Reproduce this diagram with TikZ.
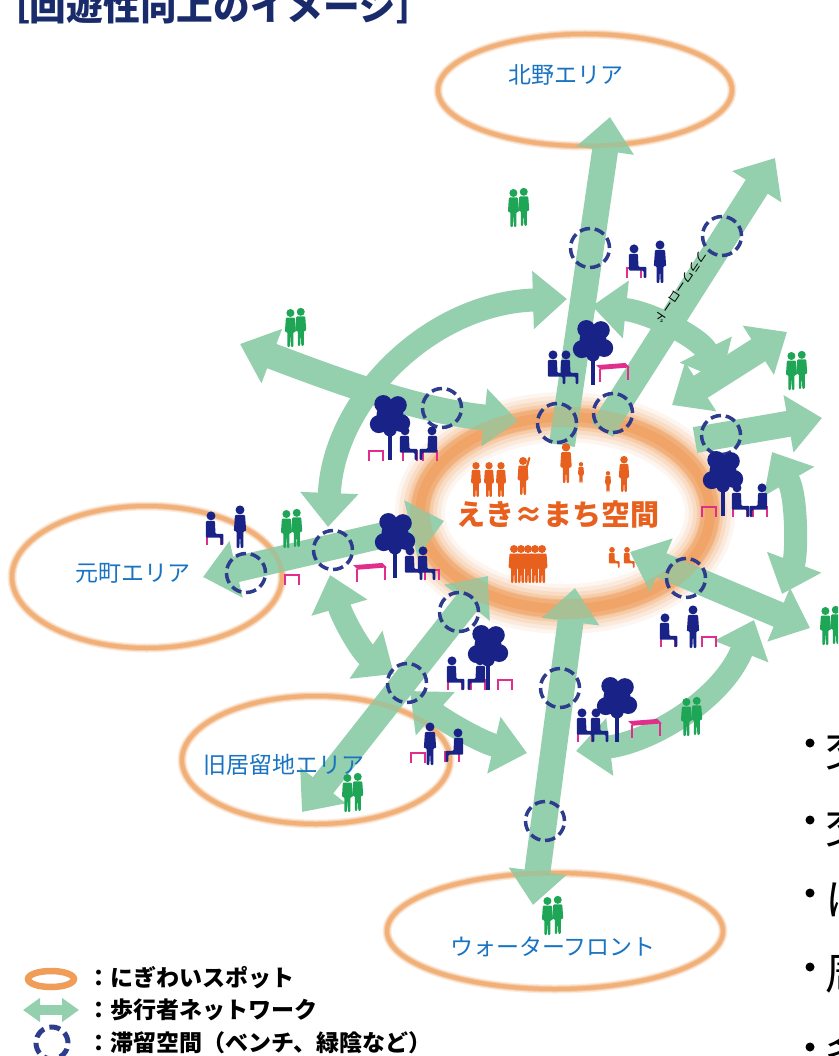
\documentclass[tikz,border=0pt]{standalone}
\usepackage{fontspec}
\setmainfont{Noto Sans CJK JP}
\usetikzlibrary{arrows.meta}

\definecolor{ringorange}{RGB}{238,140,60}
\definecolor{walkgreen}{RGB}{148,207,174}
\definecolor{stayblue}{RGB}{45,60,140}
\definecolor{areablue}{RGB}{25,115,195}
\definecolor{navy}{RGB}{25,35,135}
\definecolor{benchpink}{RGB}{225,45,140}
\definecolor{walkergreen}{RGB}{30,165,85}
\definecolor{crowdorange}{RGB}{232,96,30}
\definecolor{titlenavy}{RGB}{26,43,107}

\tikzset{
  walkway/.style={draw=walkgreen, line width=26pt, >={Triangle[length=34pt,width=56pt]}},
  ringway/.style={walkway, line width=23pt},
  stayspot/.style={circle, draw=stayblue, line width=3.5pt, minimum size=39pt, inner sep=0pt, dash pattern=on 10.5pt off 4.8pt},
  arealabel/.style={text=areablue, inner sep=0pt, font=\fontsize{23}{23}\selectfont},
  legendtext/.style={anchor=west, inner sep=0pt, font=\bfseries\fontsize{23}{23}\selectfont},
  person/.pic={
    \fill (0,-34) circle (4);
    \fill[rounded corners=1pt] (-4.5,-29.5) -- (4.5,-29.5) -- (5.5,-15) -- (3,-15) -- (3,0) -- (0.6,0)
      -- (0,-13) -- (-0.6,0) -- (-3,0) -- (-3,-15) -- (-5.5,-15) -- cycle;
  },
  walkers/.pic={
    \pic at (-4,0) {person};
    \pic at (5,-1) {person};
  },
  cheer/.pic={
    \pic {person};
    \draw[line width=2.2pt, line cap=round] (3,-27) -- (7,-41);
  },
  seated/.pic={
    \fill (0,-26) circle (4);
    \fill[rounded corners=1pt] (-4.5,-21.5) -- (3.5,-21.5) -- (4,-10) -- (11,-10) -- (11,0) -- (8.5,0)
      -- (8.5,-6.5) -- (-4.5,-6.5) -- cycle;
  },
  shadetree/.pic={
    \fill (-1.8,0) rectangle (1.8,-26);
    \fill (0,-40) circle (12) (-10,-32) circle (8) (10,-33) circle (8) (-6,-50) circle (8)
      (7,-49) circle (8) (0,-27) circle (6);
  },
  bench/.pic={
    \fill (-15,-15) -- (11,-17) -- (15,-13) -- (-11,-11) -- cycle;
    \draw[line width=2pt] (-12,-12) -- (-12,0) (13,-14) -- (13,-2);
  },
  stool/.pic={
    \draw[line width=1.8pt] (-6,0) -- (-6,-9) -- (6,-9) -- (6,0);
  }
}

\begin{document}
\begin{tikzpicture}[x=1pt,y=-1pt]
\useasboundingbox (0,0) rectangle (838,1056);
\clip (0,0) rectangle (838,1056);
\fill[white] (0,0) rectangle (838,1056);

\node[anchor=base west, inner sep=0pt, text=titlenavy, font=\bfseries\fontsize{36.7}{36.7}\selectfont] (title) at (-7,21) {［回遊性向上のイメージ］};

% soft orange rings
\foreach \w/\o in {9/.18,6.5/.25,4/.35} {
  \draw[ringorange, line width=\w pt, opacity=\o] (585,90) ellipse [x radius=147, y radius=56];
  \draw[ringorange, line width=\w pt, opacity=\o] (147,577) ellipse [x radius=135, y radius=71];
  \draw[ringorange, line width=\w pt, opacity=\o] (316,760) ellipse [x radius=134, y radius=64];
  \draw[ringorange, line width=\w pt, opacity=\o] (555,931) ellipse [x radius=168, y radius=58];
}
\foreach \w/\o in {50/.08,42/.1,34/.14,26/.2,18/.25,10/.3}
  \draw[ringorange, line width=\w pt, opacity=\o] (565,513) ellipse [x radius=145, y radius=96];

\coordinate (n-in) at (562,445);   \coordinate (n-out) at (610,117);
\coordinate (ne-in) at (602,430);  \coordinate (ne-out) at (775,158);
\coordinate (nw-out) at (240,344); \coordinate (nw-in) at (518,421);
\coordinate (w-out) at (203,577);  \coordinate (w-in) at (444,521);
\coordinate (sw-out) at (302,812); \coordinate (sw-in) at (488,576);
\coordinate (s-out) at (533,905);  \coordinate (s-in) at (575,588);
\coordinate (se-in) at (630,552);  \coordinate (se-out) at (810,628);
\coordinate (e-in) at (695,440);   \coordinate (e-out) at (822,418);
\coordinate (ene-in) at (672,405); \coordinate (ene-out) at (787,332);
\coordinate (arc1a) at (328,527);  \coordinate (arc1b) at (567,299);
\coordinate (arc2a) at (592,306);  \coordinate (arc2b) at (721,380);
\coordinate (arc3a) at (772,452);  \coordinate (arc3b) at (782,594);
\coordinate (arc4a) at (754,620);  \coordinate (arc4b) at (576,751);
\coordinate (arc5a) at (330,575);  \coordinate (arc5b) at (394,674);
\coordinate (arc6a) at (410,691);  \coordinate (arc6b) at (527,753);

\draw[walkway,->] (n-in) -- (n-out);
\draw[walkway,->] (ne-in) -- (ne-out);
\draw[walkway,<->] (nw-out) .. controls (340,382) and (420,411) .. (nw-in);
\draw[walkway,<->] (w-out) -- (w-in);
\draw[walkway,<->] (sw-out) -- (sw-in);
\draw[walkway,<->] (s-out) -- (s-in);
\draw[walkway,<->] (se-in) -- (se-out);
\draw[walkway,->] (e-in) -- (e-out);
\draw[walkway,<->] (ene-in) -- (ene-out);
% loop round the station
\draw[ringway,<->] (arc1a) .. controls (333,400) and (430,303) .. (arc1b);
\draw[ringway,<->] (arc2a) .. controls (650,312) and (700,338) .. (arc2b);
\draw[ringway,<->] (arc3a) .. controls (797,495) and (797,555) .. (arc3b);
\draw[ringway,<->] (arc4a) .. controls (722,700) and (650,742) .. (arc4b);
\draw[ringway,<->] (arc5a) .. controls (343,620) and (362,652) .. (arc5b);
\draw[ringway,<->] (arc6a) .. controls (440,718) and (480,742) .. (arc6b);

% rings show faintly through the walkways
\draw[ringorange, line width=20pt, opacity=.22] (565,513) ellipse [x radius=145, y radius=96];
\draw[ringorange, line width=5pt, opacity=.2] (585,90) ellipse [x radius=147, y radius=56];
\draw[ringorange, line width=5pt, opacity=.2] (147,577) ellipse [x radius=135, y radius=71];
\draw[ringorange, line width=5pt, opacity=.2] (316,760) ellipse [x radius=134, y radius=64];
\draw[ringorange, line width=5pt, opacity=.2] (555,931) ellipse [x radius=168, y radius=58];

\node[rotate=-124, inner sep=0pt, font=\fontsize{12}{12}\selectfont] (flowerroad) at (681,287) {フラワーロード};

\node[stayspot] (s-kitano) at (590,248) {};
\node[stayspot] (s-flower) at (722,236) {};
\node[stayspot] (s-nw) at (442,408) {};
\node[stayspot] (s-top) at (557,423) {};
\node[stayspot] (s-topr) at (613,413) {};
\node[stayspot] (s-east) at (721,435) {};
\node[stayspot] (s-se) at (686,578) {};
\node[stayspot] (s-west) at (333,550) {};
\node[stayspot] (s-motomachi) at (246,573) {};
\node[stayspot] (s-sw) at (459,612) {};
\node[stayspot] (s-kyoryuchi) at (407,683) {};
\node[stayspot] (s-south) at (560,688) {};
\node[stayspot] (s-front) at (545,821) {};

% benches, trees and people
\begin{scope}[every pic/.style={scale=1.12}]
\pic[navy] at (553,384) {seated};
\pic[navy] at (566,384) {seated};
\pic[navy] at (593,385) {shadetree};
\pic[benchpink] at (613,382) {bench};

\pic[benchpink] at (634,278) {stool};
\pic[navy] at (634,278) {seated};
\pic[navy] at (660,283) {person};

\pic[navy] at (390,460) {shadetree};
\pic[benchpink] at (376,461) {stool};
\pic[benchpink] at (410,461) {stool};
\pic[benchpink] at (430,461) {stool};
\pic[navy] at (405,460) {seated};
\pic[navy, xscale=-1] at (432,460) {seated};

\pic[navy] at (723,516) {shadetree};
\pic[benchpink] at (709,517) {stool};
\pic[benchpink] at (740,517) {stool};
\pic[benchpink] at (760,517) {stool};
\pic[navy] at (737,517) {seated};
\pic[navy, xscale=-1] at (762,517) {seated};

\pic[benchpink] at (214,545) {stool};
\pic[navy] at (211,545) {seated};
\pic[navy] at (240,548) {person};

\pic[navy] at (395,578) {shadetree};
\pic[benchpink] at (370,582) {bench};
\pic[benchpink] at (432,580) {stool};
\pic[navy] at (410,580) {seated};
\pic[navy] at (423,580) {seated};
\pic[benchpink] at (292,585) {stool};

\pic[benchpink] at (668,647) {stool};
\pic[navy] at (665,647) {seated};
\pic[navy] at (693,648) {person};
\pic[benchpink] at (709,647) {stool};

\pic[navy] at (488,690) {shadetree};
\pic[benchpink] at (455,690) {stool};
\pic[benchpink] at (478,690) {stool};
\pic[benchpink] at (505,690) {stool};
\pic[navy] at (452,690) {seated};
\pic[navy, xscale=-1] at (480,690) {seated};

\pic[navy] at (617,742) {shadetree};
\pic[benchpink] at (585,742) {stool};
\pic[navy] at (582,742) {seated};
\pic[navy] at (596,742) {seated};
\pic[benchpink] at (645,738) {bench};

\pic[benchpink] at (418,763) {stool};
\pic[navy] at (430,765) {person};
\pic[benchpink] at (452,762) {stool};
\pic[navy, xscale=-1] at (458,762) {seated};
\end{scope}

\foreach \x/\y in {518/227,295/347,291/548,796/390,830/645,691/736,352/812,552/935}
  \pic[walkergreen, scale=1.15] at (\x,\y) {walkers};

% crowd in the station square
\pic[crowdorange, scale=.92] at (476,497) {person};
\pic[crowdorange, scale=.92] at (489,497) {person};
\pic[crowdorange, scale=.92] at (501,497) {person};
\pic[crowdorange, scale=.9] at (523,495) {cheer};
\pic[crowdorange, scale=1.05] at (566,483) {person};
\pic[crowdorange, scale=.55] at (581,483) {person};
\pic[crowdorange, scale=.55] at (608,492) {person};
\pic[crowdorange, scale=.95] at (624,492) {person};
\foreach \x in {514,521,528,535,542}
  \pic[crowdorange] at (\x,583) {person};
\pic[crowdorange, scale=.7] at (612,568) {seated};
\pic[crowdorange, scale=.7] at (627,568) {seated};

\node[inner sep=0pt, text=crowdorange, font=\bfseries\fontsize{29}{29}\selectfont] (station) at (558,514) {えき≈まち空間};

\node[arealabel] (kitano) at (566,75) {北野エリア};
\node[arealabel] (motomachi) at (133,573) {元町エリア};
\node[arealabel] (kyoryuchi) at (284,765) {旧居留地エリア};
\node[arealabel] (waterfront) at (553,947) {ウォーターフロント};

% legend
\draw[ringorange, line width=6.5pt, opacity=.85] (51,979) ellipse [x radius=23, y radius=8];
\node[legendtext] (leg-spot) at (87.5,978) {：にぎわいスポット};
\coordinate (leg-a) at (23,1010);
\coordinate (leg-b) at (79,1010);
\draw[draw=walkgreen, line width=10pt, <->, >={Triangle[length=17pt,width=23pt]}] (leg-a) -- (leg-b);
\node[legendtext] (leg-walk) at (87.5,1010) {：歩行者ネットワーク};
\node[stayspot, minimum size=32pt, line width=5pt, dash pattern=on 11pt off 5.7pt] (leg-stay) at (52,1043) {};
\node[legendtext] (leg-rest) at (87.5,1043) {：滞留空間（ベンチ、緑陰など）};

\foreach \y/\c in {743/交,820/交,893/に,967/周,1047/多} {
  \fill (810,\y) circle (4.5);
  \node[anchor=west, inner sep=0pt, font=\fontsize{43}{43}\selectfont] (bullet-\y) at (825,\y+7) {\c};
}
\end{tikzpicture}
\end{document}
